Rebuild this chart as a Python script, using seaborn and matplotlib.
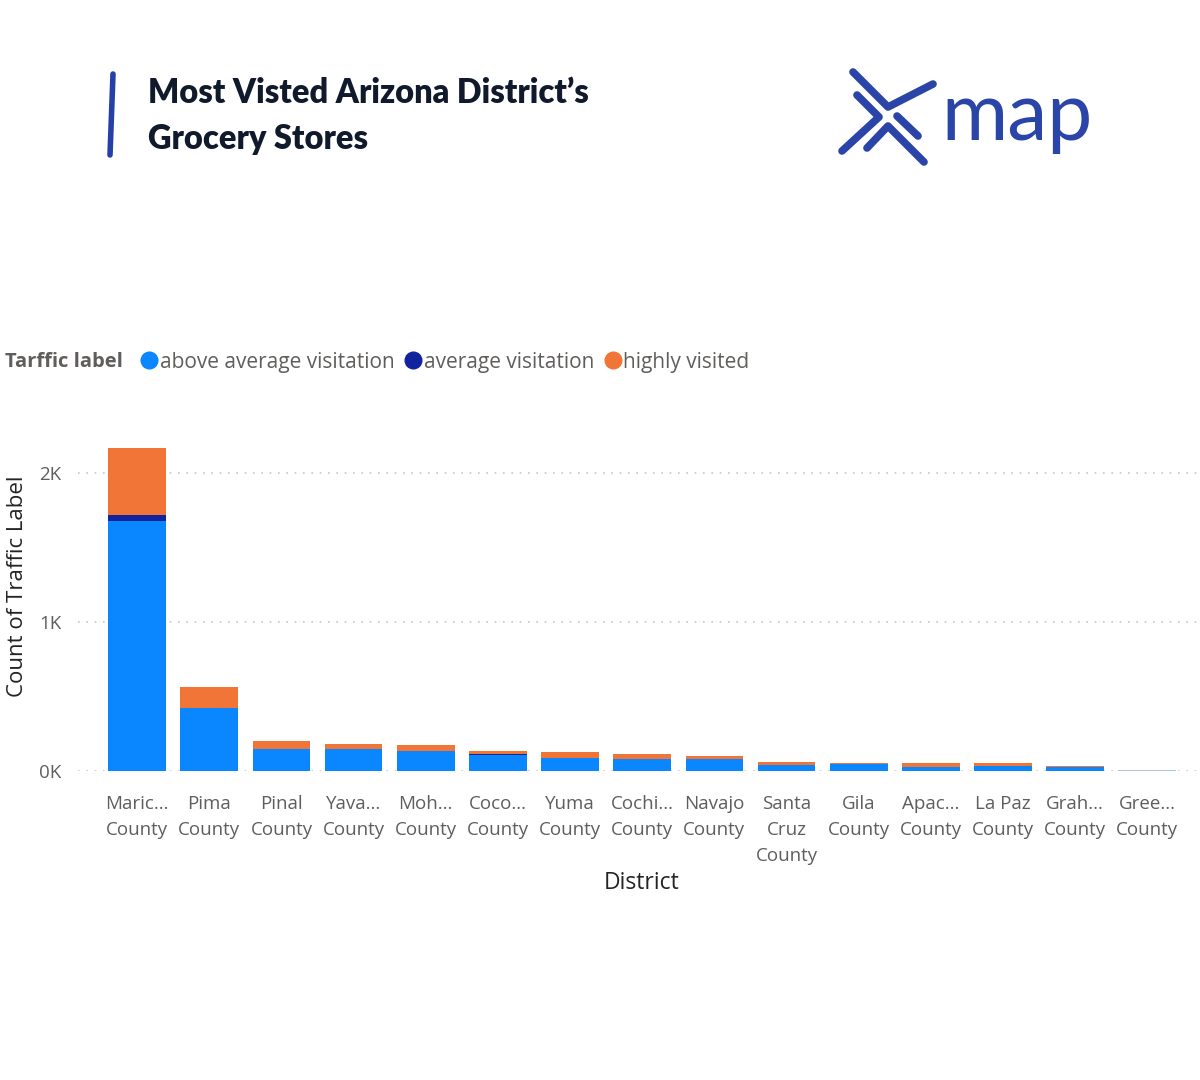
import pandas as pd
import seaborn as sns
import matplotlib.pyplot as plt
from matplotlib.lines import Line2D

# Data (counts of stores per traffic label)
districts = ["Maric...\nCounty", "Pima\nCounty", "Pinal\nCounty", "Yava...\nCounty",
             "Moh...\nCounty", "Coco...\nCounty", "Yuma\nCounty", "Cochi...\nCounty",
             "Navajo\nCounty", "Santa\nCruz\nCounty", "Gila\nCounty", "Apac...\nCounty",
             "La Paz\nCounty", "Grah...\nCounty", "Gree...\nCounty"]
above_average = [1680, 423, 146, 148, 136, 108, 90, 81, 78, 38, 49, 29, 35, 25, 10]
average = [40, 0, 0, 0, 0, 5, 0, 0, 0, 0, 0, 0, 0, 0, 0]
highly_visited = [448, 141, 55, 35, 36, 21, 38, 31, 23, 20, 7, 22, 16, 10, 0]
series_names = ["above average visitation", "average visitation", "highly visited"]
series_colors = ["#0a86ff", "#12239E", "#F07537"]

df = pd.DataFrame({"district": districts, "above": above_average,
                   "average": average, "highly": highly_visited})
df["lvl1"] = df["above"]
df["lvl2"] = df["lvl1"] + df["average"]
df["lvl3"] = df["lvl2"] + df["highly"]

sns.set_style("white")
plt.rcParams["font.family"] = ["Open Sans", "DejaVu Sans"]

fig = plt.figure(figsize=(12, 10.8), dpi=100)
ax = fig.add_axes([0.065, 0.2861, 0.935, 0.3173])

# stacked bars: draw cumulative totals back to front
for col, color in zip(["lvl3", "lvl2", "lvl1"], series_colors[::-1]):
    sns.barplot(data=df, x="district", y=col, color=color, width=0.8,
                saturation=1, ax=ax, order=districts, linewidth=0, edgecolor="none")
# the last bar is faded in the report
for p in ax.patches:
    if abs(p.get_x() + p.get_width() / 2 - 14) < 0.01:
        p.set_facecolor("#a9bfee")

ax.set_ylim(0, 2300)
ax.set_xlim(-0.82, 14.73)
ax.set_yticks([0, 1000, 2000])
ax.set_yticklabels(["0K", "1K", "2K"])
ax.yaxis.grid(True, linestyle=(0, (1, 4)), color="#c8c6c4", linewidth=1.2)
ax.set_axisbelow(True)
for s in ax.spines.values():
    s.set_visible(False)
ax.tick_params(axis="both", length=0, labelsize=13.5, colors="#605e5c")
ax.tick_params(axis="x", pad=17)
ax.tick_params(axis="y", pad=12)
for lbl in ax.get_xticklabels():
    lbl.set_linespacing(1.6)
    lbl.set_verticalalignment("top")
ax.set_xlabel("")
ax.set_ylabel("")

fig.text(642 / 1200, 1 - 883 / 1080, "District", ha="center", va="center",
         fontsize=16.5, color="#252423")
fig.text(18 / 1200, 1 - 586 / 1080, "Count of Traffic Label", ha="center", va="center",
         rotation=90, fontsize=16, color="#252423")

# legend
fig.text(5 / 1200, 1 - 362 / 1080, "Tarffic label", ha="left", va="center",
         fontsize=14.5, fontweight="bold", color="#605e5c")
handles = [Line2D([], [], marker="o", linestyle="", markersize=12, color=c) for c in series_colors]
fig.legend(handles, series_names, loc="center left", bbox_to_anchor=(118 / 1200, 1 - 362 / 1080),
           ncol=3, frameon=False, fontsize=15, handletextpad=-0.1, columnspacing=0.3,
           handlelength=1.2, labelcolor="#605e5c")

# title
fig.add_artist(Line2D([113 / 1200, 110 / 1200], [1 - 74 / 1080, 1 - 155 / 1080],
                      color="#2541a8", linewidth=4))
fig.text(148 / 1200, 1 - 93 / 1080, "Most Visted Arizona District\u2019s", fontsize=23.5,
         fontweight="heavy", family="Lato", color="#111a2c", va="center")
fig.text(148 / 1200, 1 - 139 / 1080, "Grocery Stores", fontsize=23.5,
         fontweight="heavy", family="Lato", color="#111a2c", va="center")

# logo
logo_color = "#2a44a8"
strokes = [
    [(853, 72), (888, 107), (933, 84)],
    [(857, 95), (879, 117), (842, 151)],
    [(867, 148), (888, 126), (924, 162)],
    [(897, 116), (918, 136)],
]
for st in strokes:
    xs = [p[0] / 1200 for p in st]
    ys = [1 - p[1] / 1080 for p in st]
    fig.add_artist(Line2D(xs, ys, color=logo_color, linewidth=5.5,
                          solid_capstyle="round", solid_joinstyle="round"))
fig.text(941 / 1200, 1 - 117 / 1080, "map", fontsize=58, family="Lato",
         color=logo_color, va="center", ha="left")

fig.savefig("out.png", dpi=100, facecolor="white")
